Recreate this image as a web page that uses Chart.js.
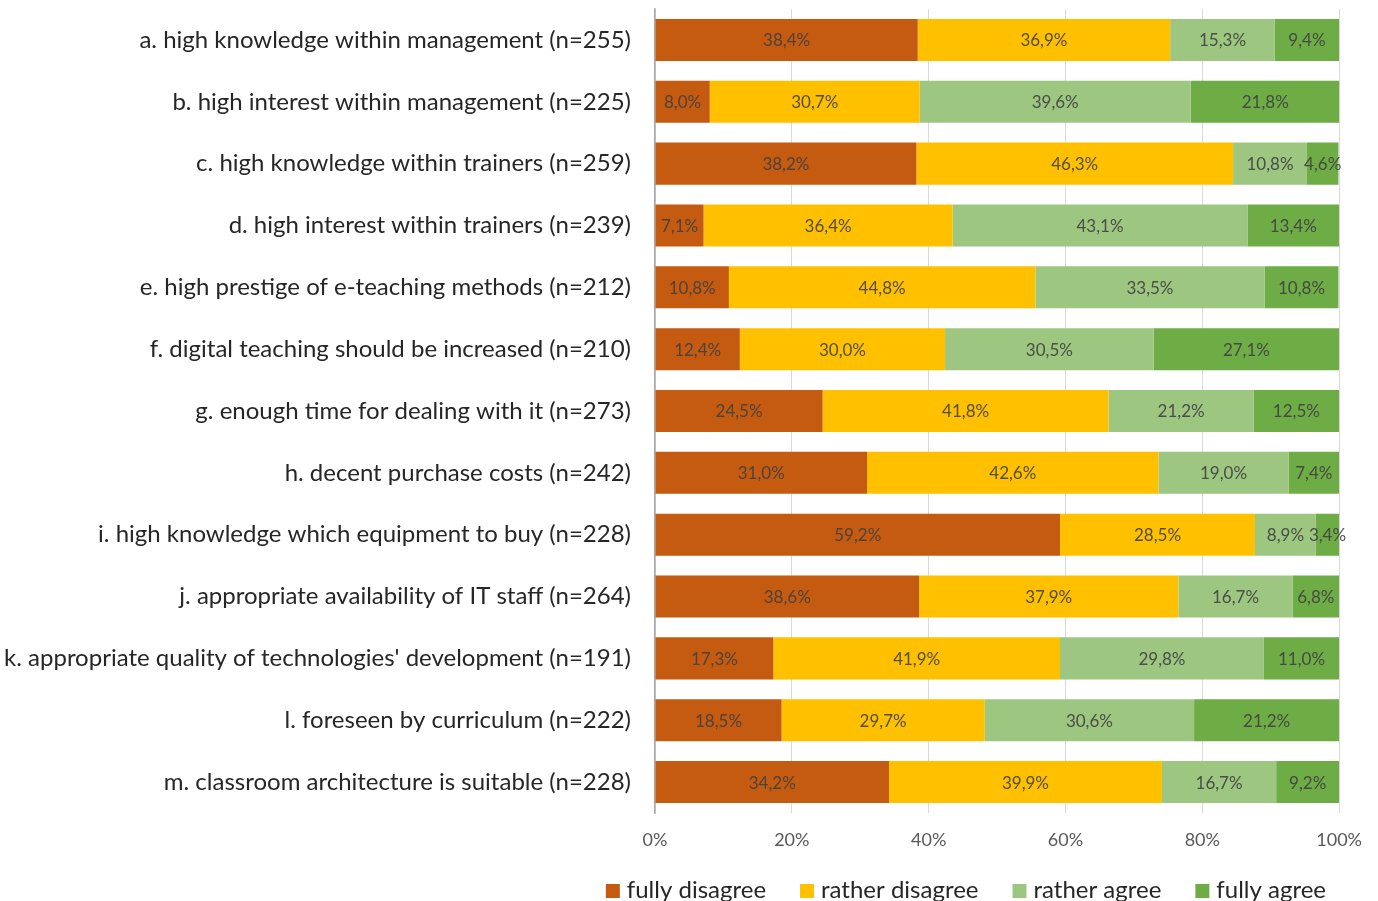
<!DOCTYPE html>
<html>
<head>
<meta charset="utf-8">
<script src="https://cdn.jsdelivr.net/npm/chart.js"></script>
<style>
  html, body { margin: 0; padding: 0; background: #ffffff; }
  #wrap { width: 1378px; height: 901px; }
</style>
</head>
<body>
<div id="wrap"><canvas id="chart" width="1378" height="901"></canvas></div>
<script>
// categories and series (percent of respondents)
const categories = [
  "a. high knowledge within management (n=255)",
  "b. high interest within management (n=225)",
  "c. high knowledge within trainers (n=259)",
  "d. high interest within trainers (n=239)",
  "e. high prestige of e-teaching methods (n=212)",
  "f. digital teaching should be increased (n=210)",
  "g. enough time for dealing with it (n=273)",
  "h. decent purchase costs (n=242)",
  "i. high knowledge which equipment to buy (n=228)",
  "j. appropriate availability of IT staff (n=264)",
  "k. appropriate quality of technologies' development (n=191)",
  "l. foreseen by curriculum (n=222)",
  "m. classroom architecture is suitable (n=228)"
];
const seriesNames = ["fully disagree", "rather disagree", "rather agree", "fully agree"];
const fullyDisagree  = [38.4,  8.0, 38.2,  7.1, 10.8, 12.4, 24.5, 31.0, 59.2, 38.6, 17.3, 18.5, 34.2];
const ratherDisagree = [36.9, 30.7, 46.3, 36.4, 44.8, 30.0, 41.8, 42.6, 28.5, 37.9, 41.9, 29.7, 39.9];
const ratherAgree    = [15.3, 39.6, 10.8, 43.1, 33.5, 30.5, 21.2, 19.0,  8.9, 16.7, 29.8, 30.6, 16.7];
const fullyAgree     = [ 9.4, 21.8,  4.6, 13.4, 10.8, 27.1, 12.5,  7.4,  3.4,  6.8, 11.0, 21.2,  9.2];
const xTicks = [0, 20, 40, 60, 80, 100];

const colors = ["#C55A11", "#FFC000", "#9DC680", "#6EAC46"];
const FONT = "Lato, 'Open Sans', sans-serif";

// dessine les valeurs au centre de chaque segment
const valueLabels = {
  id: "valueLabels",
  afterDatasetsDraw(chart) {
    const ctx = chart.ctx;
    ctx.save();
    ctx.font = "17px " + FONT;
    ctx.fillStyle = "rgba(64,64,64,0.9)";
    ctx.textAlign = "center";
    ctx.textBaseline = "middle";
    chart.data.datasets.forEach((ds, i) => {
      chart.getDatasetMeta(i).data.forEach((bar, j) => {
        const p = bar.getProps(["x", "y", "base"], true);
        const txt = ds.data[j].toFixed(1).replace(".", ",") + "%";
        ctx.fillText(txt, (p.x + p.base) / 2, p.y + 1);
      });
    });
    ctx.restore();
  }
};

// légende en bas, alignée à droite comme dans Excel
const bottomLegend = {
  id: "bottomLegend",
  afterDraw(chart) {
    const ctx = chart.ctx;
    const box = 14, gapText = 7, gapItem = 34, right = 1326, cy = 890;
    ctx.save();
    ctx.font = "24px " + FONT;
    ctx.textBaseline = "middle";
    const items = chart.data.datasets.map(ds => ({
      label: ds.label, color: ds.backgroundColor, w: ctx.measureText(ds.label).width
    }));
    let total = items.reduce((s, it) => s + box + gapText + it.w, 0) + gapItem * (items.length - 1);
    let x = right - total;
    items.forEach(it => {
      ctx.fillStyle = it.color;
      ctx.fillRect(x, cy - box / 2 + 1, box, box);
      ctx.fillStyle = "#262626";
      ctx.fillText(it.label, x + box + gapText, cy);
      x += box + gapText + it.w + gapItem;
    });
    ctx.restore();
  }
};

const datasets = [fullyDisagree, ratherDisagree, ratherAgree, fullyAgree].map((d, i) => ({
  label: seriesNames[i],
  data: d,
  backgroundColor: colors[i],
  borderWidth: 0,
  barPercentage: 0.68,
  categoryPercentage: 1.0
}));

new Chart(document.getElementById("chart"), {
  type: "bar",
  data: { labels: categories, datasets: datasets },
  options: {
    indexAxis: "y",
    responsive: false,
    animation: false,
    layout: { padding: { top: 9, right: 37, left: 0, bottom: 38 } },
    scales: {
      x: {
        stacked: true,
        min: 0,
        max: 100,
        afterBuildTicks: (s) => { s.ticks = xTicks.map(v => ({ value: v })); },
        afterFit: (s) => { s.height = 50; },
        border: { display: false },
        grid: { color: "#D9D9D9", lineWidth: 1, drawTicks: false },
        ticks: {
          padding: 16,
          color: "#595959",
          font: { family: FONT, size: 18 },
          callback: (v) => v + "%"
        }
      },
      y: {
        stacked: true,
        afterFit: (s) => {
          s.width = 655;
          // pas de marge verticale due aux étiquettes
          s.paddingTop = 0;
          s.paddingBottom = 0;
        },
        border: { display: true, color: "#A6A6A6", width: 1.5 },
        grid: { display: false, drawTicks: false },
        ticks: {
          padding: 24,
          color: "#262626",
          font: { family: FONT, size: 24 }
        }
      }
    },
    plugins: {
      legend: { display: false },
      tooltip: { enabled: false }
    }
  },
  plugins: [valueLabels, bottomLegend]
});
</script>
</body>
</html>
